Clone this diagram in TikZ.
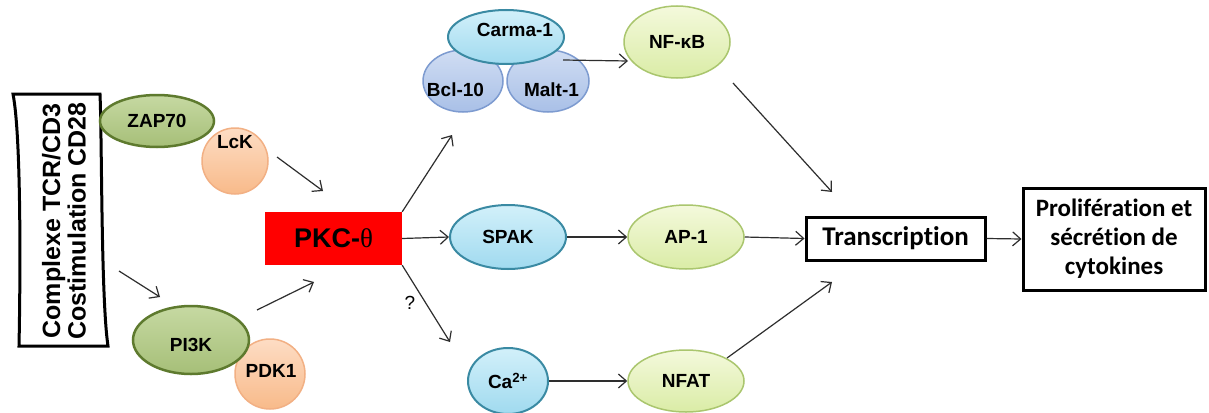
\documentclass[tikz,border=0pt]{standalone}
\usepackage{fontspec}
\setmainfont{Liberation Sans}
\newfontfamily\calfont[Ligatures=NoCommon]{Carlito}
\newfontfamily\serfont{Liberation Serif}
\usetikzlibrary{shapes.geometric,arrows.meta,calc}
\definecolor{grtop}{HTML}{C6D9A2}
\definecolor{grbot}{HTML}{A6BF78}
\definecolor{grline}{HTML}{5E7A2E}
\definecolor{ortop}{HTML}{FDDDC4}
\definecolor{orbot}{HTML}{F8BA8A}
\definecolor{orline}{HTML}{F2B084}
\definecolor{bltop}{HTML}{D2F0FA}
\definecolor{blbot}{HTML}{A0DAEF}
\definecolor{blline}{HTML}{3A8AA3}
\definecolor{lvtop}{HTML}{D0DDF3}
\definecolor{lvbot}{HTML}{A9C0E7}
\definecolor{lvline}{HTML}{7D9BD0}
\definecolor{ygtop}{HTML}{F4F9DC}
\definecolor{ygbot}{HTML}{DAECA6}
\definecolor{ygline}{HTML}{AAC66E}
\definecolor{arr}{HTML}{2E2E2E}
\begin{document}
\begin{tikzpicture}[x=1pt,y=-1pt,
  lab/.style={font=\bfseries\fontsize{19}{19}\selectfont},
  bub/.style={ellipse, inner sep=0pt, lab},
  grn/.style={bub, top color=grtop, bottom color=grbot, draw=grline, line width=2.5pt},
  orb/.style={bub, top color=ortop, bottom color=orbot, draw=orline, line width=1.5pt},
  blu/.style={bub, top color=bltop, bottom color=blbot, draw=blline, line width=2pt},
  lav/.style={bub, top color=lvtop, bottom color=lvbot, draw=lvline, line width=1.5pt},
  ylg/.style={bub, top color=ygtop, bottom color=ygbot, draw=ygline, line width=1.5pt},
  box/.style={draw=black, line width=3pt, fill=white, inner sep=0pt},
  conn/.style={draw=arr, line width=1.2pt, -{Straight Barb[length=8pt,width=14pt]}}]
\useasboundingbox (0,0) rectangle (1209,412);
\fill[white] (0,0) rectangle (1209,412);
\clip (0,0) rectangle (1209,412);

% left complex
\draw[line width=3pt, fill=white] (13,94) .. controls (22,140) and (20,300) .. (19,346) -- (108,346) .. controls (101,300) and (102,140) .. (100,94) -- cycle;
\node[rotate=90, align=center, inner sep=0pt, font=\bfseries\fontsize{25}{25.5}\selectfont] (tcr) at (64,221) {Complexe TCR/CD3\\Costimulation CD28};

% kinases
\node[orb, minimum width=66, minimum height=66, label={[lab, yshift=18.5pt]center:LcK}] (lck) at (235,161) {};
\node[orb, minimum width=70, minimum height=70, label={[lab, xshift=1pt, yshift=3.5pt]center:PDK1}] (pdk) at (270,374) {};
\node[grn, minimum width=114, minimum height=52] (zap) at (157,121) {ZAP70};
\node[grn, minimum width=116, minimum height=68, label={[lab, yshift=-4.5pt]center:PI3K}] (pi3k) at (191,340) {};

% PKC
\node[fill=red, minimum width=137, minimum height=53, inner sep=0pt, font=\bfseries\fontsize{27}{27}\selectfont] (pkc) at (333.5,238.5) {PKC-{\serfont\mdseries θ}};

% CBM complex
\node[lav, minimum width=80, minimum height=62, label={[lab, xshift=-7.5pt, yshift=-9pt]center:Bcl-10}] (bcl) at (463,81) {};
\node[lav, minimum width=82, minimum height=62, label={[lab, xshift=3.5pt, yshift=-9pt]center:Malt-1}] (malt) at (548,81) {};
\node[blu, minimum width=116, minimum height=54, label={[lab, xshift=9pt, yshift=7pt]center:Carma-1}] (carma) at (506,37) {};

\node[ylg, minimum width=106, minimum height=72] (nfkb) at (677,42) {NF-κB};
\node[blu, minimum width=116, minimum height=64] (spak) at (508,237) {SPAK};
\node[blu, minimum width=80, minimum height=66] (ca) at (508,381) {Ca\textsuperscript{2+}};
\node[ylg, minimum width=116, minimum height=64] (ap1) at (686,237) {AP-1};
\node[ylg, minimum width=116, minimum height=62] (nfat) at (686,381) {NFAT};

\node[box, minimum width=179, minimum height=43, font=\calfont\bfseries\fontsize{27}{27}\selectfont] (trans) at (895.5,238.5) {Transcription};
\node[box, minimum width=182, minimum height=102, align=center, font=\calfont\bfseries\fontsize{25}{29}\selectfont] (prolif) at (1114,239) {Prolifération et\\sécrétion de\\cytokines};

\node[font=\fontsize{19}{19}\selectfont] (q) at (410,303) {?};

% connectors
\draw[conn] ($(lck)+(42,-4)$) -- ($(pkc)+(-10.5,-47.5)$);
\draw[conn] ($(tcr)+(55,50)$) -- ($(pi3k)+(-31,-43)$);
\draw[conn] ($(pi3k)+(66,-30)$) -- ($(pkc)+(-19.5,43.5)$);
\draw[conn] (pkc.north east) -- ($(bcl)+(-11,54)$);
\draw[conn] (pkc.east) -- (spak.west);
\draw[conn] (pkc.south east) -- ($(ca)+(-58,-39)$);
\draw[conn] ($(carma)+(57,23)$) -- ($(nfkb)+(-49,19)$);
\draw[conn] (spak.east) -- (ap1.west);
\draw[conn] (ca.east) -- (nfat.west);
\draw[conn] ($(nfkb)+(56,41)$) -- ($(trans)+(-63.5,-46.5)$);
\draw[conn] (ap1.east) -- (trans.west);
\draw[conn] ($(nfat)+(41,-23)$) -- ($(trans)+(-63.5,43.5)$);
\draw[conn] (trans.east) -- (prolif.west);
\end{tikzpicture}
\end{document}
